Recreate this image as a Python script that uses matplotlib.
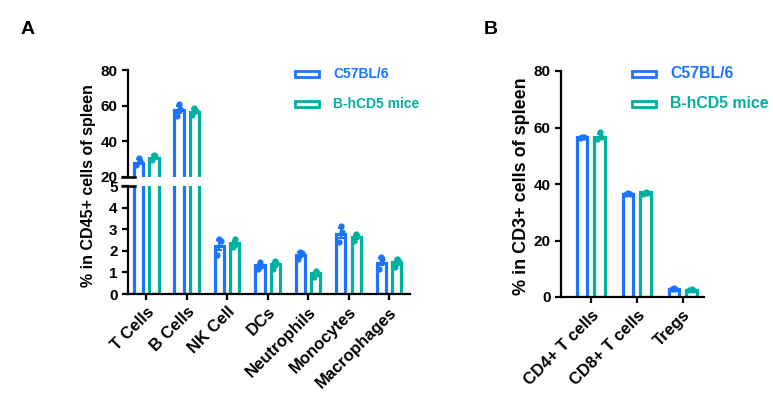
import numpy as np
import matplotlib
matplotlib.use("Agg")
import matplotlib.pyplot as plt

plt.rcParams['font.family'] = ['Liberation Sans', 'DejaVu Sans']
plt.rcParams['font.weight'] = 'bold'

blue = "#1a74ff"
teal = "#00b0a0"

# panel A data
cells_a = ["T Cells", "B Cells", "NK Cell", "DCs", "Neutrophils", "Monocytes", "Macrophages"]
wt_a_mean = [27.9, 57.8, 2.24, 1.34, 1.82, 2.78, 1.43]
hu_a_mean = [30.7, 56.3, 2.34, 1.38, 0.95, 2.65, 1.47]
wt_a_pts = [[26.9, 28.8, 30.7], [54.0, 58.0, 61.1], [1.80, 2.47, 2.55], [1.15, 1.28, 1.46],
            [1.62, 1.88, 1.96], [2.42, 2.88, 3.16], [1.16, 1.62, 1.70]]
hu_a_pts = [[29.8, 31.6, 32.5], [55.0, 57.0, 58.7], [2.16, 2.31, 2.55], [1.16, 1.42, 1.54],
            [0.77, 0.95, 1.08], [2.47, 2.70, 2.80], [1.23, 1.57, 1.62]]

# panel B data
cells_b = ["CD4+ T cells", "CD8+ T cells", "Tregs"]
wt_b_mean = [56.5, 36.5, 2.9]
hu_b_mean = [56.5, 37.0, 2.6]
wt_b_pts = [[56.3, 56.5, 56.7], [36.3, 36.5, 36.7], [2.7, 2.9, 3.1]]
hu_b_pts = [[55.9, 56.5, 58.5], [36.5, 36.8, 37.3], [2.4, 2.6, 2.8]]

jit = [-0.05, 0.03, 0.0]
w = 0.23
off = 0.19


def draw(ax, mean1, mean2, pts1, pts2):
    x = np.arange(len(mean1))
    for xs, m, p, c in [(x - off, mean1, pts1, blue), (x + off, mean2, pts2, teal)]:
        ax.bar(xs, m, width=w, facecolor='white', edgecolor=c, linewidth=2.3, zorder=2)
        for xi, pp in zip(xs, p):
            pp = np.array(pp)
            sem = pp.std(ddof=1) / np.sqrt(len(pp))
            mm = pp.mean()
            ax.errorbar(xi, mm, yerr=sem, color=c, lw=1.5, capsize=2, capthick=1.5, zorder=3)
            ax.scatter(xi + np.array(jit), pp, s=20, color=c, zorder=4, linewidths=0)


def style(ax):
    for s in ['top', 'right']:
        ax.spines[s].set_visible(False)
    for s in ['left', 'bottom']:
        ax.spines[s].set_linewidth(1.6)
    ax.tick_params(width=1.6, length=4, labelsize=11)


fig = plt.figure(figsize=(7.73, 3.97), dpi=100)

ax_top = fig.add_axes([128 / 773, 1 - 177 / 397, 282 / 773, 107 / 397])
ax_bot = fig.add_axes([128 / 773, 1 - 294 / 397, 282 / 773, 108 / 397])
ax_b = fig.add_axes([561 / 773, 1 - 297 / 397, 143 / 773, 226 / 397])

for ax in (ax_top, ax_bot):
    draw(ax, wt_a_mean, hu_a_mean, wt_a_pts, hu_a_pts)
    ax.set_xlim(-0.45, 6.52)
    style(ax)

ax_top.set_ylim(20, 80)
ax_top.set_yticks([20, 40, 60, 80])
ax_top.spines['bottom'].set_visible(False)
ax_top.set_xticks([])
ax_bot.set_ylim(0, 5)
ax_bot.set_yticks([0, 1, 2, 3, 4, 5])
ax_bot.spines['top'].set_visible(False)
ax_bot.set_xticks(np.arange(len(cells_a)))
ax_bot.set_xticklabels(cells_a, rotation=45, ha='right', rotation_mode='anchor',
                       fontsize=12, fontweight='bold')
for lab in ax_bot.get_yticklabels() + ax_top.get_yticklabels():
    lab.set_fontweight('bold')

# break marks
ax_top.plot([-0.02, 0.025], [0, 0], transform=ax_top.transAxes, color='black', lw=1.8, clip_on=False)
ax_bot.plot([-0.02, 0.025], [1, 1], transform=ax_bot.transAxes, color='black', lw=1.8, clip_on=False)

draw(ax_b, wt_b_mean, hu_b_mean, wt_b_pts, hu_b_pts)
ax_b.set_xlim(-0.65, 2.46)
ax_b.set_ylim(0, 80)
ax_b.set_yticks([0, 20, 40, 60, 80])
style(ax_b)
ax_b.set_xticks(np.arange(len(cells_b)))
ax_b.set_xticklabels(cells_b, rotation=45, ha='right', rotation_mode='anchor',
                     fontsize=12, fontweight='bold')
for lab in ax_b.get_yticklabels():
    lab.set_fontweight('bold')

fig.text(88 / 773, 1 - 186 / 397, "% in CD45+ cells of spleen", rotation=90,
         ha='center', va='center', fontsize=11.5, fontweight='bold')
fig.text(522 / 773, 1 - 186 / 397, "% in CD3+ cells of spleen", rotation=90,
         ha='center', va='center', fontsize=13, fontweight='bold')

fig.text(21 / 773, 1 - 30 / 397, "A", fontsize=14, fontweight='bold', va='center')
fig.text(484 / 773, 1 - 30 / 397, "B", fontsize=14, fontweight='bold', va='center')

# legends drawn as patches + text
legend_spots = [(295, 38, 10), (632, 38, 11.4)]
for lx, gap, fs in legend_spots:
    for ly, c, name in zip((74, 104), [blue, teal], ["C57BL/6", "B-hCD5 mice"]):
        fig.patches.append(plt.Rectangle((lx / 773, 1 - (ly + 3) / 397), 24 / 773, 6 / 397,
                                         transform=fig.transFigure, facecolor='white',
                                         edgecolor=c, linewidth=2.0))
        fig.text((lx + gap) / 773, 1 - ly / 397, name, color=c, fontsize=fs,
                 fontweight='bold', va='center')

fig.savefig("out.png", dpi=100)
